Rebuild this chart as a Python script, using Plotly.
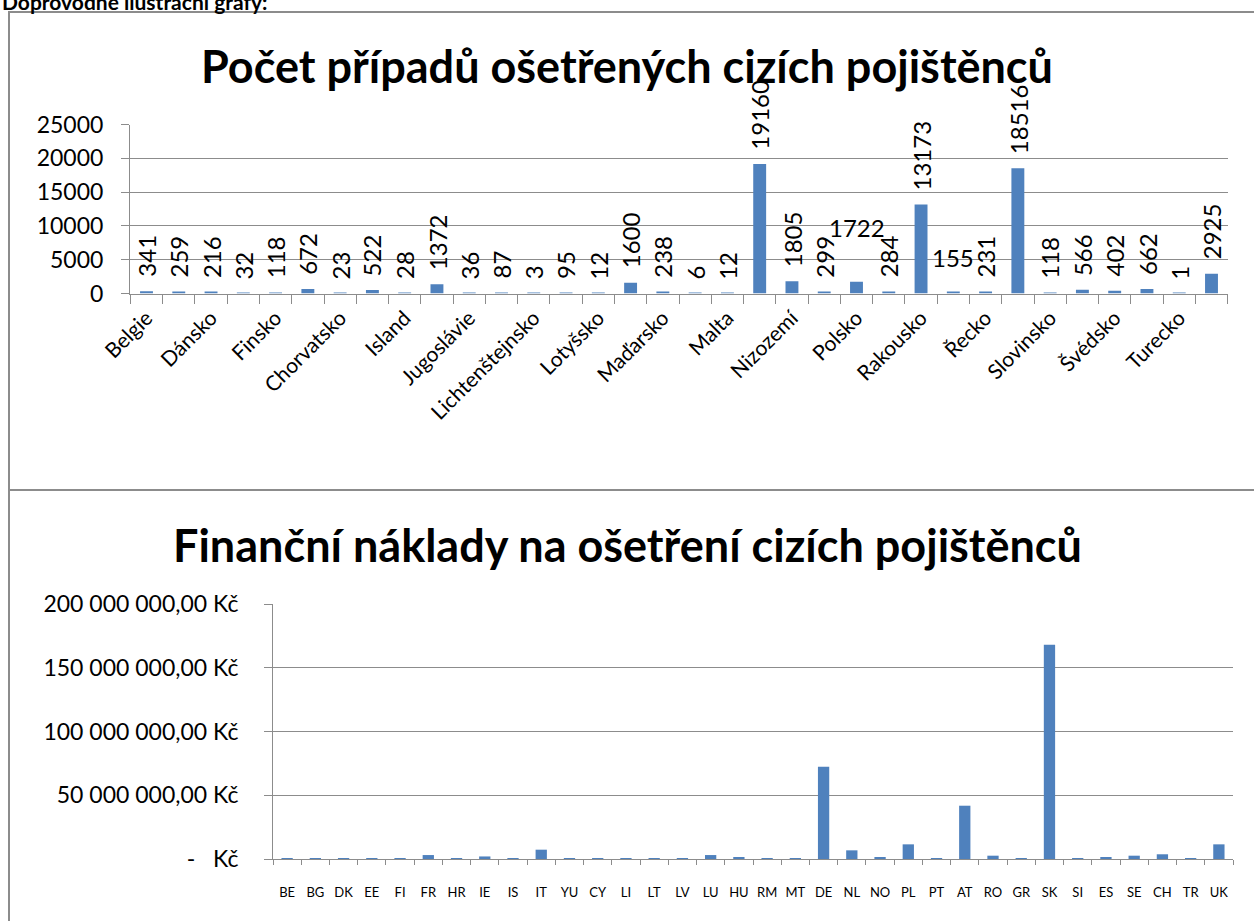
import plotly.graph_objects as go

# ---------------- data ----------------
names = ["Belgie", "Bulharsko", "Dánsko", "Estonsko", "Finsko", "Francie", "Chorvatsko",
         "Irsko", "Island", "Itálie", "Jugoslávie", "Kypr", "Lichtenštejnsko", "Litva",
         "Lotyšsko", "Lucembursko", "Maďarsko", "Makedonie", "Malta", "Německo", "Nizozemí",
         "Norsko", "Polsko", "Portugalsko", "Rakousko", "Rumunsko", "Řecko", "Slovensko",
         "Slovinsko", "Španělsko", "Švédsko", "Švýcarsko", "Turecko", "Velká Británie"]
codes = ["BE", "BG", "DK", "EE", "FI", "FR", "HR", "IE", "IS", "IT", "YU", "CY", "LI", "LT",
         "LV", "LU", "HU", "RM", "MT", "DE", "NL", "NO", "PL", "PT", "AT", "RO", "GR", "SK",
         "SI", "ES", "SE", "CH", "TR", "UK"]
cases = [341, 259, 216, 32, 118, 672, 23, 522, 28, 1372, 36, 87, 3, 95, 12, 1600, 238, 6, 12,
         19160, 1805, 299, 1722, 284, 13173, 155, 231, 18516, 118, 566, 402, 662, 1, 2925]
costs = [400000, 300000, 300000, 50000, 200000, 3100000, 30000, 2000000, 50000, 7300000,
         50000, 100000, 5000, 100000, 20000, 3100000, 1000000, 10000, 20000, 72400000,
         6800000, 1500000, 11500000, 300000, 41800000, 2600000, 300000, 168000000, 150000,
         1500000, 2600000, 3700000, 5000, 11500000]
top_ticks = [0, 5000, 10000, 15000, 20000, 25000]
top_tick_text = ["0", "5000", "10000", "15000", "20000", "25000"]
cost_ticks = [0, 50000000, 100000000, 150000000, 200000000]
cost_tick_text = ["-\u00a0\u00a0\u00a0Kč", "50\u00a0000\u00a0000,00\u00a0Kč",
                  "100\u00a0000\u00a0000,00\u00a0Kč", "150\u00a0000\u00a0000,00\u00a0Kč",
                  "200\u00a0000\u00a0000,00\u00a0Kč"]
title_top = "Počet případů ošetřených cizích pojištěnců"
title_bottom = "Finanční náklady na ošetření cizích pojištěnců"
heading = "Doprovodné ilustrační grafy:"

# ---------------- style ----------------
W, H = 1254, 921
FONT = "Lato"
BAR = "#4F81BD"
GRID = "#8c8c8c"
horizontal_labels = {"Polsko": 38, "Rumunsko": 18}


def px_x(p):
    return p / W


def px_y(p):
    return 1 - p / H


fig = go.Figure()
fig.add_trace(go.Bar(x=names, y=cases, marker=dict(color=BAR, line=dict(width=0)),
                     xaxis="x", yaxis="y", hoverinfo="x+y"))
fig.add_trace(go.Bar(x=codes, y=costs, marker=dict(color=BAR, line=dict(width=0)),
                     xaxis="x2", yaxis="y2", hoverinfo="x+y"))

annotations = []
for n, v in zip(names, cases):
    if n in horizontal_labels:
        annotations.append(dict(x=n, y=v, xref="x", yref="y", text=str(v), showarrow=False,
                                textangle=0, yanchor="bottom", xanchor="center",
                                yshift=horizontal_labels[n],
                                font=dict(family=FONT, size=24, color="#000")))
    else:
        annotations.append(dict(x=n, y=v, xref="x", yref="y", text=str(v), showarrow=False,
                                textangle=-90, yanchor="bottom", xanchor="center", yshift=12,
                                font=dict(family=FONT, size=24, color="#000")))

annotations += [
    dict(x=0.5, y=px_y(66), xref="paper", yref="paper", text="<b>%s</b>" % title_top,
         showarrow=False, xanchor="center", yanchor="middle",
         font=dict(family=FONT, size=45, color="#000")),
    dict(x=0.5, y=px_y(545), xref="paper", yref="paper", text="<b>%s</b>" % title_bottom,
         showarrow=False, xanchor="center", yanchor="middle",
         font=dict(family=FONT, size=45, color="#000")),
    dict(x=0, y=px_y(1), xref="paper", yref="paper", text="<b>%s</b>" % heading,
         showarrow=False, xanchor="left", yanchor="middle",
         font=dict(family=FONT, size=21, color="#000")),
]

shapes = [
    dict(type="rect", xref="paper", yref="paper", x0=px_x(9), x1=px_x(1270),
         y0=px_y(490), y1=px_y(12), line=dict(color=GRID, width=2)),
    dict(type="rect", xref="paper", yref="paper", x0=px_x(9), x1=px_x(1270),
         y0=px_y(940), y1=px_y(490), line=dict(color=GRID, width=2)),
]

top_ticktext = [n if i % 2 == 0 else "" for i, n in enumerate(names)]

fig.update_layout(
    width=W, height=H, autosize=False,
    margin=dict(l=0, r=0, t=0, b=0, autoexpand=False),
    paper_bgcolor="white", plot_bgcolor="white",
    showlegend=False, bargap=0.6,
    font=dict(family=FONT, color="#000"),
    annotations=annotations, shapes=shapes,
    xaxis=dict(domain=[px_x(130), px_x(1228)], anchor="y", type="category",
               tickmode="array", tickvals=names, ticktext=top_ticktext, tickangle=-45,
               ticks="outside", tickson="boundaries", ticklen=9, tickcolor=GRID,
               showline=True, linecolor=GRID, linewidth=1, showgrid=False, automargin=False,
               tickfont=dict(family=FONT, size=21), ticklabelstandoff=3),
    yaxis=dict(domain=[px_y(293.5), px_y(124.5)], anchor="x", range=[0, 25000],
               tickmode="array", tickvals=top_ticks, ticktext=top_tick_text,
               ticks="outside", ticklen=8, automargin=False,
               tickcolor=GRID, showline=True, linecolor=GRID, linewidth=1,
               showgrid=True, gridcolor=GRID, gridwidth=1, zeroline=False,
               tickfont=dict(family=FONT, size=23), ticklabelstandoff=13),
    xaxis2=dict(domain=[px_x(273), px_x(1233)], anchor="y2", type="category",
                tickmode="array", tickvals=codes, ticktext=codes, tickangle=0,
                ticks="outside", tickson="boundaries", ticklen=5, tickcolor=GRID,
                showline=True, linecolor=GRID, linewidth=1, showgrid=False, automargin=False,
                tickfont=dict(family=FONT, size=13), ticklabelstandoff=21),
    yaxis2=dict(domain=[px_y(859), px_y(604)], anchor="x2", range=[0, 200000000],
                tickmode="array", tickvals=cost_ticks, ticktext=cost_tick_text,
                ticks="outside", ticklen=8, tickcolor=GRID, showline=True, linecolor=GRID,
                linewidth=1, showgrid=True, gridcolor=GRID, gridwidth=1, zeroline=False,
                automargin=False,
                tickfont=dict(family=FONT, size=23), ticklabelstandoff=21),
)

fig.write_html("out.html", config={"displayModeBar": False},
               post_script="document.body.style.margin='0';"
                           "document.body.style.overflow='hidden';")
